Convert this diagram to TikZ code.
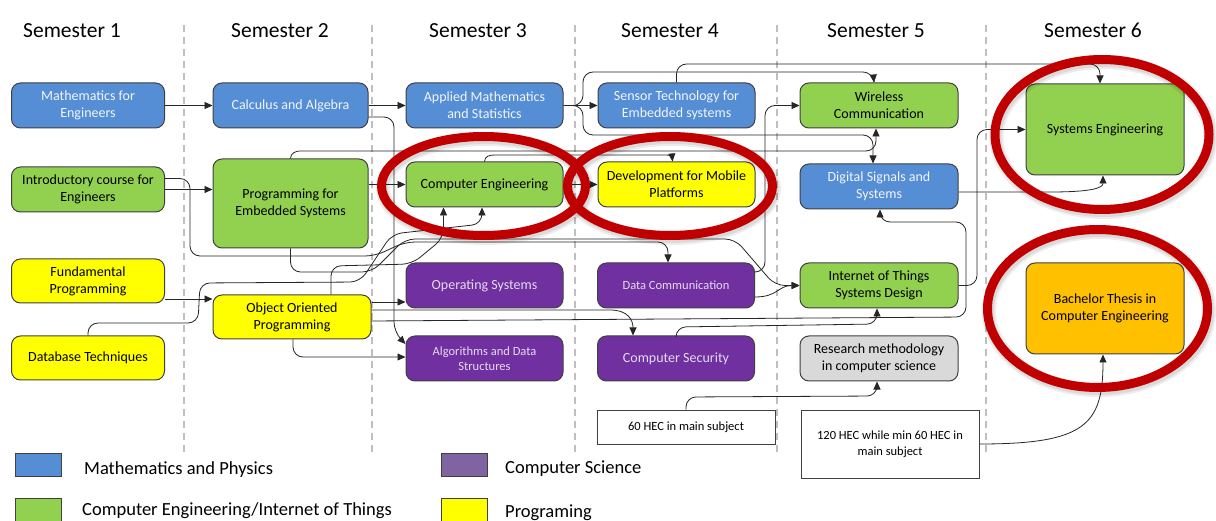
\documentclass[tikz,border=0pt]{standalone}
\usepackage{fontspec}
\setmainfont{Carlito}
\usetikzlibrary{arrows.meta,calc}
\definecolor{mblue}{HTML}{558ED5}
\definecolor{mgreen}{HTML}{92D050}
\definecolor{myellow}{HTML}{FFFF00}
\definecolor{mpurple}{HTML}{7030A0}
\definecolor{lpurple}{HTML}{8064A2}
\definecolor{mgray}{HTML}{D9D9D9}
\definecolor{morange}{HTML}{FFC000}
\definecolor{mred}{HTML}{C00000}
\definecolor{bordercol}{HTML}{404040}
\definecolor{ptext}{HTML}{E4DAF0}
\definecolor{btext}{HTML}{F2F5FB}
\definecolor{dashcol}{HTML}{BFBFBF}
\begin{document}
\begin{tikzpicture}[x=1pt,y=-1pt,
  box/.style={draw=bordercol, line width=1pt, rounded corners=9pt, align=center, inner sep=2pt,
    font=\fontsize{14}{17}\selectfont, minimum width=157pt, minimum height=45pt},
  smalltext/.style={font=\fontsize{12.5}{15.5}\selectfont},
  sq/.style={draw=bordercol, line width=0.9pt, align=center, font=\fontsize{12.5}{15.5}\selectfont},
  conn/.style={draw=black!85, line width=0.8pt, rounded corners=10pt, -{Triangle[length=8pt,width=7pt]}},
  hdr/.style={font=\fontsize{21.5}{25}\selectfont, anchor=base, inner sep=0pt},
  sep/.style={draw=dashcol, line width=1.2pt, dash pattern=on 7pt off 5pt},
  ring/.style={draw=mred, line width=9pt},
  ringshadowA/.style={draw=black, opacity=0.07, line width=14pt},
  ringshadowB/.style={draw=black, opacity=0.08, line width=10pt},
  legbox/.style={draw=bordercol, line width=1pt, minimum width=46pt, minimum height=23pt, inner sep=0pt},
  legtext/.style={font=\fontsize{18.5}{22}\selectfont, anchor=base west, inner sep=0pt}
]
\useasboundingbox (0,0) rectangle (1216,521);
\fill[white] (0,0) rectangle (1216,521);

% column separators
\foreach \xx in {184,372,575,777,986} \draw[sep] (\xx,25) -- (\xx,452);

% headers
\node[hdr] (s1) at (72,38) {Semester 1};
\node[hdr] (s2) at (280,38) {Semester 2};
\node[hdr] (s3) at (478,38) {Semester 3};
\node[hdr] (s4) at (670,38) {Semester 4};
\node[hdr] (s5) at (876,38) {Semester 5};
\node[hdr] (s6) at (1093,38) {Semester 6};

% column 1
\node[box, fill=mblue, text=btext, minimum width=153pt] (mfe) at (88,105.5) {Mathematics for\\Engineers};
\node[box, fill=mgreen, minimum width=153pt] (intro) at (88,189.5) {Introductory course for\\Engineers};
\node[box, fill=myellow, minimum width=153pt, minimum height=44pt] (fp) at (88,281) {Fundamental\\Programming};
\node[box, fill=myellow, minimum width=153pt, minimum height=44pt] (db) at (88,358) {Database Techniques};
% column 2
\node[box, fill=mblue, text=btext, minimum width=155pt] (calc) at (290.5,105.5) {Calculus and Algebra};
\node[box, fill=mgreen, minimum width=155pt, minimum height=89pt] (pes) at (290.5,203.5) {Programming for\\Embedded Systems};
\node[box, fill=myellow, minimum width=158pt, minimum height=44pt] (oop) at (292,317) {Object Oriented\\Programming};
% column 3
\node[box, fill=mblue, text=btext] (ams) at (484.5,105.5) {Applied Mathematics\\and Statistics};
\node[box, fill=mgreen] (ce) at (484.5,184.5) {Computer Engineering};
\node[box, fill=mpurple, text=ptext] (os) at (484.5,285.5) {Operating Systems};
\node[box, fill=mpurple, text=ptext, smalltext] (alg) at (484.5,358.5) {Algorithms and Data\\Structures};
% column 4
\node[box, fill=mblue, text=btext] (sensor) at (676.5,105.5) {Sensor Technology for\\Embedded systems};
\node[box, fill=myellow] (dev) at (676.5,184.5) {Development for Mobile\\Platforms};
\node[box, fill=mpurple, text=ptext, smalltext] (dc) at (676,285.5) {Data Communication};
\node[box, fill=mpurple, text=ptext] (cs) at (676,358.5) {Computer Security};
\node[sq, minimum width=178pt, minimum height=34pt] (hecA) at (686,427) {60 HEC in main subject};
% column 5
\node[box, fill=mgreen, minimum width=158pt] (wl) at (879,105.5) {Wireless\\Communication};
\node[box, fill=mblue, text=btext, minimum width=158pt] (dss) at (879,186.5) {Digital Signals and\\Systems};
\node[box, fill=mgreen, minimum width=158pt] (iot) at (879,285.5) {Internet of Things\\Systems Design};
\node[box, fill=mgray, minimum width=158pt] (rm) at (879,358.5) {Research methodology\\in computer science};
\node[sq, minimum width=178pt, minimum height=68pt] (hecB) at (890,444) {120 HEC while min 60 HEC in\\main subject};
% column 6
\node[box, fill=mgreen, minimum width=158pt, minimum height=91pt] (se) at (1105,129.5) {Systems Engineering};
\node[box, fill=morange, minimum width=158pt, minimum height=91pt] (bt) at (1105,308.5) {Bachelor Thesis in\\Computer Engineering};

% connectors
\draw[conn] (mfe.east) -- (calc.west);
\draw[conn] (calc.east) -- (ams.west);
\draw[conn] (ams.east) -- (sensor.west);
\draw[conn] (ams.east) -- (583,105.5) -- (583,72) -- (873,72) -- ([xshift=-5pt]wl.north);
\draw[conn] (sensor.north) -- (676.5,64) -- (1100,64) -- ([xshift=-5pt]se.north);
\draw[conn] (ams.east) -- (583,105.5) -- (583,135) -- (873,135) -- ([xshift=-6pt]dss.north);
\draw[conn] (pes.north) .. controls (290.5,153) and (296,151) .. (310,151) -- (876,151) -- ([xshift=-3pt]wl.south);
\draw[conn] (pes.east |- ce.west) -- (ce.west);
\draw[conn] (ce.east) -- (dev.west);
\draw[conn] (ce.north) .. controls (484.5,156) and (490,155) .. (505,155) -- (655,155) .. controls (668,155) and (672,156) .. ([xshift=-4pt]dev.north);
\draw[conn] (intro.east) -- (pes.west |- intro.east);
\draw[conn] ([shift={(0,-11)}]intro.east) -- (190,178.5) -- (190,256) -- (375,256) -- (405,242) -- (668,242) -- ([xshift=-8pt]dc.north);
\draw[conn] (pes.south) -- (290.5,272) -- (372,272) -- (405,239) -- (735,239) -- (775,285.5) -- (iot.west);
\draw[conn] ([xshift=39pt]oop.north) -- (331,266) -- (412,264) -- (443.5,238) -- ([xshift=-41pt]ce.south);
\draw[conn] (db.north) -- (88,323) -- (198,323) -- (200,283) -- (360,282) -- (392,234) -- (482,224) -- ([xshift=-2.5pt]ce.south);
\draw[conn] ([shift={(0,18)}]fp.east) -- (oop.west |- 0,299);
\draw[conn] (oop.east |- 0,302) -- (os.west |- 0,302);
\draw[conn] (oop.east |- 0,310) -- (600,310) .. controls (628,310) and (633,320) .. ([xshift=-43pt]cs.north);
\draw[conn] (oop.east |- 0,321) -- (966,317) -- (966,222) -- (880,222) -- ([xshift=1pt]dss.south);
\draw[conn] (cs.north) -- (676,327) -- (877,324) -- ([xshift=-2pt]iot.south);
\draw[conn] (dc.east |- 0,297) .. controls (778,297) and (778,285.5) .. (iot.west);
\draw[conn] (dc.east |- 0,272) -- (765,272) -- (765,105.5) -- (wl.west);
\draw[conn] (iot.east) -- (977,285.5) -- (977,129.5) -- (se.west);
\draw[conn] (dss.east |- 0,192) -- (1040,192) .. controls (1092,192) and (1103,188) .. ([xshift=-2pt]se.south);
\draw[conn] (hecA.north) -- (686,397) -- (877,396) -- ([xshift=-2pt]rm.south);
\draw[conn] (hecB.east) .. controls (1085,444) and (1103,425) .. ([xshift=-2pt]bt.south);
\draw[conn] (calc.east |- 0,117) -- (394,117) -- (394,332) -- (alg.west |- 0,344);
\draw[conn] ([xshift=1pt]oop.south) -- (293,357) -- (alg.west |- 0,357);

% red highlight rings (soft shadow, then ring)
\foreach \cx/\cy/\rx/\ry in {483.5/186/102/49.5, 670/186/102.5/49.5, 1102/134.5/107/75, 1097.5/308.5/110/79}{
  \draw[ringshadowA] (\cx+1.5,\cy+2.5) ellipse [x radius=\rx, y radius=\ry];
  \draw[ringshadowB] (\cx+1.5,\cy+2.5) ellipse [x radius=\rx, y radius=\ry];
}
\draw[ring] (483.5,186) ellipse [x radius=102, y radius=49.5];
\draw[ring] (670,186) ellipse [x radius=102.5, y radius=49.5];
\draw[ring] (1102,134.5) ellipse [x radius=107, y radius=75];
\draw[ring] (1097.5,308.5) ellipse [x radius=110, y radius=79];

% legend
\node[legbox, fill=mblue] (lg1) at (38,464.5) {};
\node[legtext] (lt1) at (84,474) {Mathematics and Physics};
\node[legbox, fill=mgreen, minimum height=26pt] (lg2) at (38,511) {};
\node[legtext] (lt2) at (82,515.5) {Computer Engineering/Internet of Things};
\node[legbox, fill=lpurple] (lg3) at (464,464.5) {};
\node[legtext] (lt3) at (505,473) {Computer Science};
\node[legbox, fill=myellow, minimum height=26pt] (lg4) at (464,511) {};
\node[legtext] (lt4) at (505,517) {Programing};
\end{tikzpicture}
\end{document}
